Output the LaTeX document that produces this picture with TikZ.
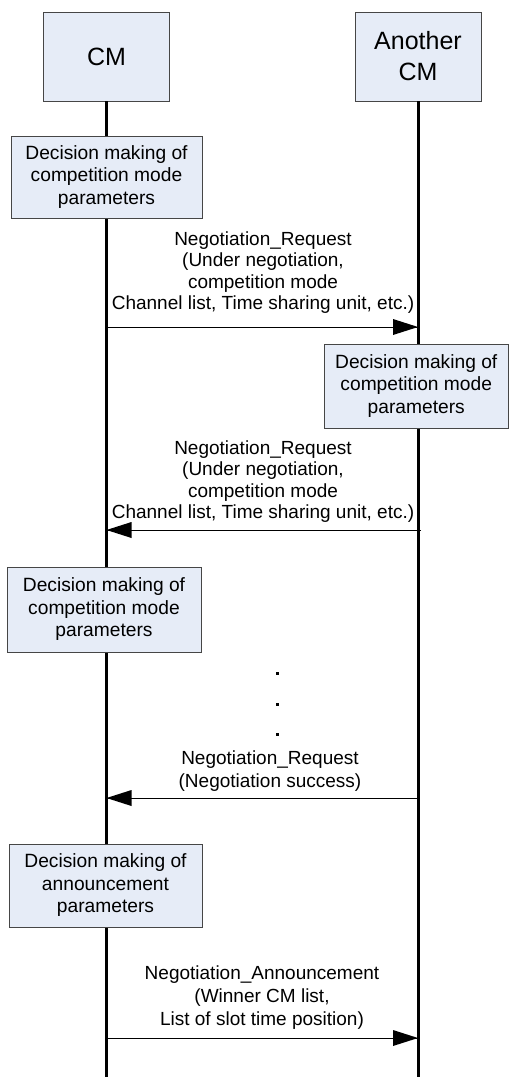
\documentclass[tikz,border=0pt]{standalone}
\usepackage{fontspec}
\setmainfont{Liberation Sans}

\definecolor{boxfill}{RGB}{230,236,247}
\definecolor{boxline}{RGB}{70,70,70}

\begin{document}
\begin{tikzpicture}[x=1pt,y=1pt]
            \tikzstyle{every node}+=[inner sep=0pt]
            \tikzstyle{entity}=[draw=boxline, fill=boxfill, line width=0.9pt, minimum width=126pt, minimum height=89pt, align=center, font=\fontsize{25}{31}\selectfont]
            \tikzstyle{decision}=[draw=boxline, fill=boxfill, line width=0.9pt, minimum height=82pt, align=center, font=\fontsize{19.2}{22.5}\selectfont]
            \tikzstyle{msglabel}=[anchor=south, align=center, font=\fontsize{19}{21.5}\selectfont]
            \tikzstyle{lifeline}=[black, line width=3pt]
            \tikzstyle{message}=[black, line width=0.9pt]
            \useasboundingbox (0,0) rectangle (509,-1077);
            \node [entity] (cm) at (106.5,-56.5) {CM};
            \node [entity] (other) at (418,-56.5) {Another\\CM};
            \coordinate (cm end) at (106.5,-1077);
            \coordinate (other end) at (418,-1077);
            \draw [lifeline] (cm.south) -- (cm end);
            \draw [lifeline] (other.south) -- (other end);
            \node [decision, minimum width=191pt] (dm1) at (106.5,-177) {Decision making of\\competition mode\\parameters};
            \coordinate (m1 from) at (106.5,-327);
            \coordinate (m1 to) at (418,-327);
            \draw [message] (m1 from) -- (m1 to);
            \fill [black] (m1 to) -- ++(-25,8) -- ++(0,-16) -- cycle;
            \node [msglabel] (l1) at (263,-314) {Negotiation\_Request\\(Under negotiation,\\competition mode\\Channel list, Time sharing unit, etc.)};
            \node [decision, minimum width=184.5pt, minimum height=84pt] (dm2) at (416.25,-386) {Decision making of\\competition mode\\parameters};
            \coordinate (m2 from) at (421,-530);
            \coordinate (m2 to) at (106.5,-530);
            \draw [message] (m2 from) -- (m2 to);
            \fill [black] (m2 to) -- ++(25,8) -- ++(0,-16) -- cycle;
            \node [msglabel] (l2) at (263,-523) {Negotiation\_Request\\(Under negotiation,\\competition mode\\Channel list, Time sharing unit, etc.)};
            \node [decision, minimum width=194pt, minimum height=85pt] (dm3) at (104,-609.5) {Decision making of\\competition mode\\parameters};
            \foreach \y in {673,704,734}
              \fill [black] (277,-\y) ++(-1.5,-1.5) rectangle ++(3,3);
            \coordinate (m3 from) at (418,-798);
            \coordinate (m3 to) at (106.5,-798);
            \draw [message] (m3 from) -- (m3 to);
            \fill [black] (m3 to) -- ++(25,8) -- ++(0,-16) -- cycle;
            \node [msglabel, font=\fontsize{19}{23.5}\selectfont] (l3) at (270,-792) {Negotiation\_Request\\(Negotiation success)};
            \node [decision, minimum width=193pt, minimum height=83pt] (dm4) at (105.5,-885.5) {Decision making of\\announcement\\parameters};
            \coordinate (m4 from) at (106.5,-1038);
            \coordinate (m4 to) at (418,-1038);
            \draw [message] (m4 from) -- (m4 to);
            \fill [black] (m4 to) -- ++(-25,8) -- ++(0,-16) -- cycle;
            \node [msglabel, font=\fontsize{19}{23}\selectfont] (l4) at (262,-1030) {Negotiation\_Announcement\\(Winner CM list,\\List of slot time position)};
            \end{tikzpicture}
\end{document}
